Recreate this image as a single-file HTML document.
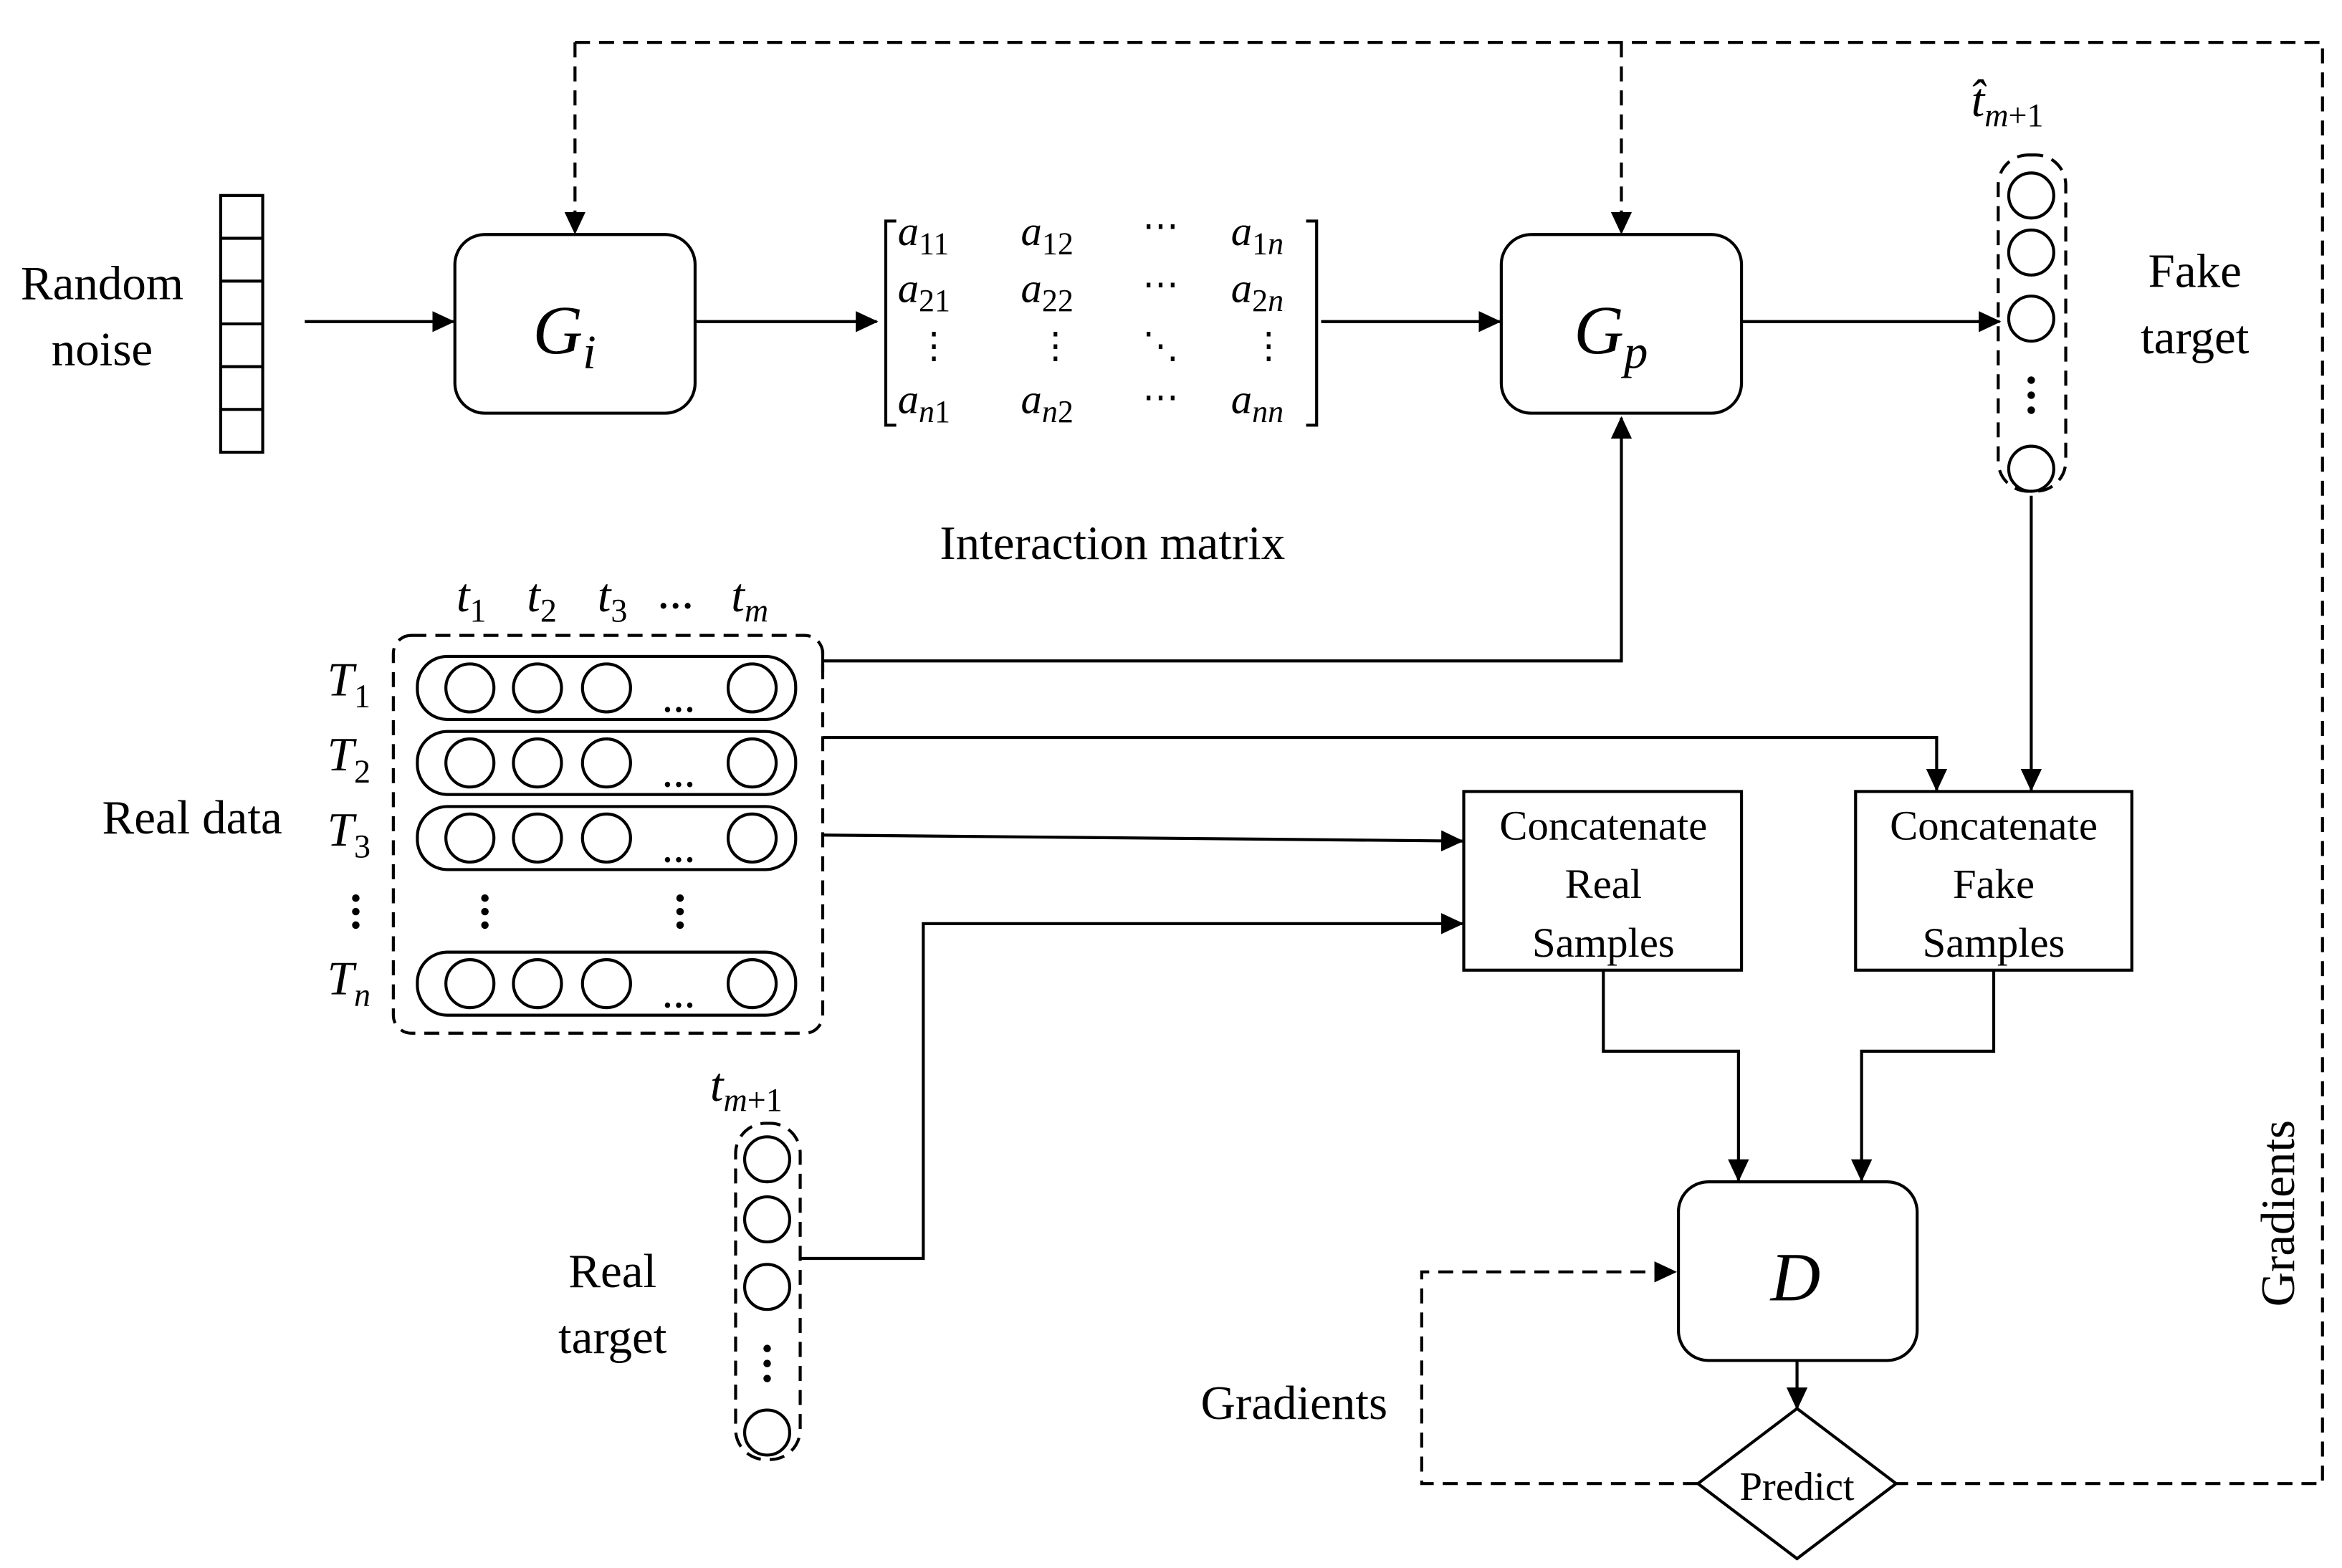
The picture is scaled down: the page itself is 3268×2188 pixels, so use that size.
<!DOCTYPE html>
<html><head><meta charset="utf-8"><style>
html,body{margin:0;padding:0;background:#fff}
svg{display:block}
text{font-family:"Liberation Serif",serif;fill:#000}
.m{font-style:italic}
</style></head><body>
<svg width="3268" height="2188" viewBox="0 0 1560 1044" xmlns="http://www.w3.org/2000/svg">
<defs>
<marker id="b" markerWidth="16" markerHeight="16" refX="14" refY="8" orient="auto" markerUnits="userSpaceOnUse" viewBox="0 0 16 16">
<path d="M0,1 L15,8 L0,15 z" fill="#000"/></marker>
</defs>
<g stroke="#000" stroke-width="2" fill="none">
<path d="M383,28 H1547 V988 H1263" stroke-dasharray="10,6"/>
<path d="M383,28 V155" stroke-dasharray="10,6" marker-end="url(#b)"/>
<path d="M1080,28 V155" stroke-dasharray="10,6" marker-end="url(#b)"/>
<path d="M1131,988 H947 V847 H1116" stroke-dasharray="10,6" marker-end="url(#b)"/>
<rect x="147" y="130" width="28" height="171"/>
<path d="M147,158.5H175M147,187H175M147,215.5H175M147,244H175M147,272.5H175"/>
<path d="M203,214 H302" marker-end="url(#b)"/>
<rect x="303" y="156" width="160" height="119" rx="20"/>
<path d="M463,214 H584" marker-end="url(#b)"/>
<path d="M597,147 H590 V283 H597"/>
<path d="M870,147 H877 V283 H870"/>
<path d="M880,214 H999" marker-end="url(#b)"/>
<rect x="1000" y="156" width="160" height="119" rx="20"/>
<path d="M1160,214 H1332" marker-end="url(#b)"/>
<rect x="1331" y="103" width="45" height="224" rx="20" stroke-dasharray="10,6"/>
<circle cx="1353" cy="130" r="15"/><circle cx="1353" cy="168" r="15"/><circle cx="1353" cy="212" r="15"/><circle cx="1353" cy="312" r="15"/>
<path d="M1353,330 V526" marker-end="url(#b)"/>
<rect x="262" y="423" width="286" height="265" rx="12" stroke-dasharray="10,6"/>
<g id="row">
<rect x="278" y="437" width="252" height="42" rx="20"/>
<circle cx="313" cy="458" r="16"/><circle cx="358" cy="458" r="16"/><circle cx="404" cy="458" r="16"/><circle cx="501" cy="458" r="16"/>
</g>
<use href="#row" y="50"/><use href="#row" y="100"/><use href="#row" y="197"/>
<path d="M548,433 V447 M548,440 H1080 V278" marker-end="url(#b)"/>
<path d="M548,491 H1290 V526" marker-end="url(#b)"/>
<path d="M548,556 L974,560" marker-end="url(#b)"/>
<rect x="975" y="527" width="185" height="119"/>
<rect x="1236" y="527" width="184" height="119"/>
<rect x="490" y="748" width="43" height="224" rx="20" stroke-dasharray="10,6"/>
<circle cx="511" cy="772" r="15"/><circle cx="511" cy="812" r="15"/><circle cx="511" cy="857" r="15"/><circle cx="511" cy="954" r="15"/>
<path d="M533,838 H615 V615 H974" marker-end="url(#b)"/>
<path d="M1068,646 V700 H1158 V786" marker-end="url(#b)"/>
<path d="M1328,646 V700 H1240 V786" marker-end="url(#b)"/>
<rect x="1118" y="787" width="159" height="119" rx="20"/>
<path d="M1197,906 V938" marker-end="url(#b)"/>
<path d="M1197,938 L1263,988 L1197,1038 L1131,988 Z"/>
</g>
<g fill="#000">
<circle cx="1353" cy="253" r="2.5"/><circle cx="1353" cy="263" r="2.5"/><circle cx="1353" cy="273" r="2.5"/>
<circle cx="511" cy="898" r="2.5"/><circle cx="511" cy="908" r="2.5"/><circle cx="511" cy="918" r="2.5"/>
<circle cx="237" cy="598" r="2.5"/><circle cx="237" cy="607" r="2.5"/><circle cx="237" cy="616" r="2.5"/>
<circle cx="323" cy="598" r="2.5"/><circle cx="323" cy="607" r="2.5"/><circle cx="323" cy="616" r="2.5"/>
<circle cx="453" cy="598" r="2.5"/><circle cx="453" cy="607" r="2.5"/><circle cx="453" cy="616" r="2.5"/>
</g>
<g font-size="32" text-anchor="middle">
<text x="68" y="199">Random</text><text x="68" y="243">noise</text>
<text x="741" y="372">Interaction matrix</text>
<text x="128" y="555">Real data</text>
<text x="1462" y="191">Fake</text><text x="1462" y="235">target</text>
<text x="408" y="857">Real</text><text x="408" y="901">target</text>
<text x="862" y="945">Gradients</text>
<text transform="translate(1528,808) rotate(-90)">Gradients</text>
</g>
<g font-size="28" text-anchor="middle">
<text x="1068" y="559">Concatenate</text><text x="1068" y="598">Real</text><text x="1068" y="637">Samples</text>
<text x="1328" y="559">Concatenate</text><text x="1328" y="598">Fake</text><text x="1328" y="637">Samples</text>
<text x="1197" y="999" font-size="27">Predict</text>
</g>
<g class="m" text-anchor="middle">
<text x="376" y="235" font-size="46">G<tspan font-size="32" dy="10">i</tspan></text>
<text x="1073" y="235" font-size="46">G<tspan font-size="32" dy="10">p</tspan></text>
<text x="1196" y="866" font-size="46">D</text>
</g>
<g class="m" font-size="28">
<text x="598" y="163">a<tspan font-size="21" dy="6" font-style="normal">11</tspan></text>
<text x="680" y="163">a<tspan font-size="21" dy="6" font-style="normal">12</tspan></text>
<text x="820" y="163">a<tspan font-size="21" dy="6" font-style="normal">1</tspan><tspan font-size="21">n</tspan></text>
<text x="598" y="201">a<tspan font-size="21" dy="6" font-style="normal">21</tspan></text>
<text x="680" y="201">a<tspan font-size="21" dy="6" font-style="normal">22</tspan></text>
<text x="820" y="201">a<tspan font-size="21" dy="6" font-style="normal">2</tspan><tspan font-size="21">n</tspan></text>
<text x="598" y="275">a<tspan font-size="21" dy="6">n</tspan><tspan font-size="21" font-style="normal">1</tspan></text>
<text x="680" y="275">a<tspan font-size="21" dy="6">n</tspan><tspan font-size="21" font-style="normal">2</tspan></text>
<text x="820" y="275">a<tspan font-size="21" dy="6">nn</tspan></text>
</g>
<g font-size="24" text-anchor="middle" font-style="normal">
<text x="773" y="158">⋯</text><text x="773" y="197">⋯</text><text x="773" y="272">⋯</text>
<text x="622" y="238">⋮</text><text x="703" y="238">⋮</text><text x="773" y="238">⋱</text><text x="845" y="238">⋮</text>
</g>
<g class="m" font-size="32">
<text x="304" y="407">t<tspan font-size="22" dy="7" font-style="normal">1</tspan></text>
<text x="351" y="407">t<tspan font-size="22" dy="7" font-style="normal">2</tspan></text>
<text x="398" y="407">t<tspan font-size="22" dy="7" font-style="normal">3</tspan></text>
<text x="438" y="405" font-style="normal" font-weight="bold" font-size="24">…</text>
<text x="487" y="407">t<tspan font-size="22" dy="7">m</tspan></text>
<text x="218" y="463">T<tspan font-size="22" dy="8" font-style="normal">1</tspan></text>
<text x="218" y="513">T<tspan font-size="22" dy="8" font-style="normal">2</tspan></text>
<text x="218" y="563">T<tspan font-size="22" dy="8" font-style="normal">3</tspan></text>
<text x="218" y="662">T<tspan font-size="22" dy="8">n</tspan></text>
<text x="473" y="733">t<tspan font-size="22" dy="7">m</tspan><tspan font-size="22" font-style="normal">+1</tspan></text>
<text x="1313" y="77">t̂<tspan font-size="22" dy="7">m</tspan><tspan font-size="22" font-style="normal">+1</tspan></text>
</g>
<g font-size="22" font-weight="bold" text-anchor="middle">
<text x="452" y="474">…</text><text x="452" y="524">…</text><text x="452" y="574">…</text><text x="452" y="671">…</text>
</g>
</svg>
</body></html>
